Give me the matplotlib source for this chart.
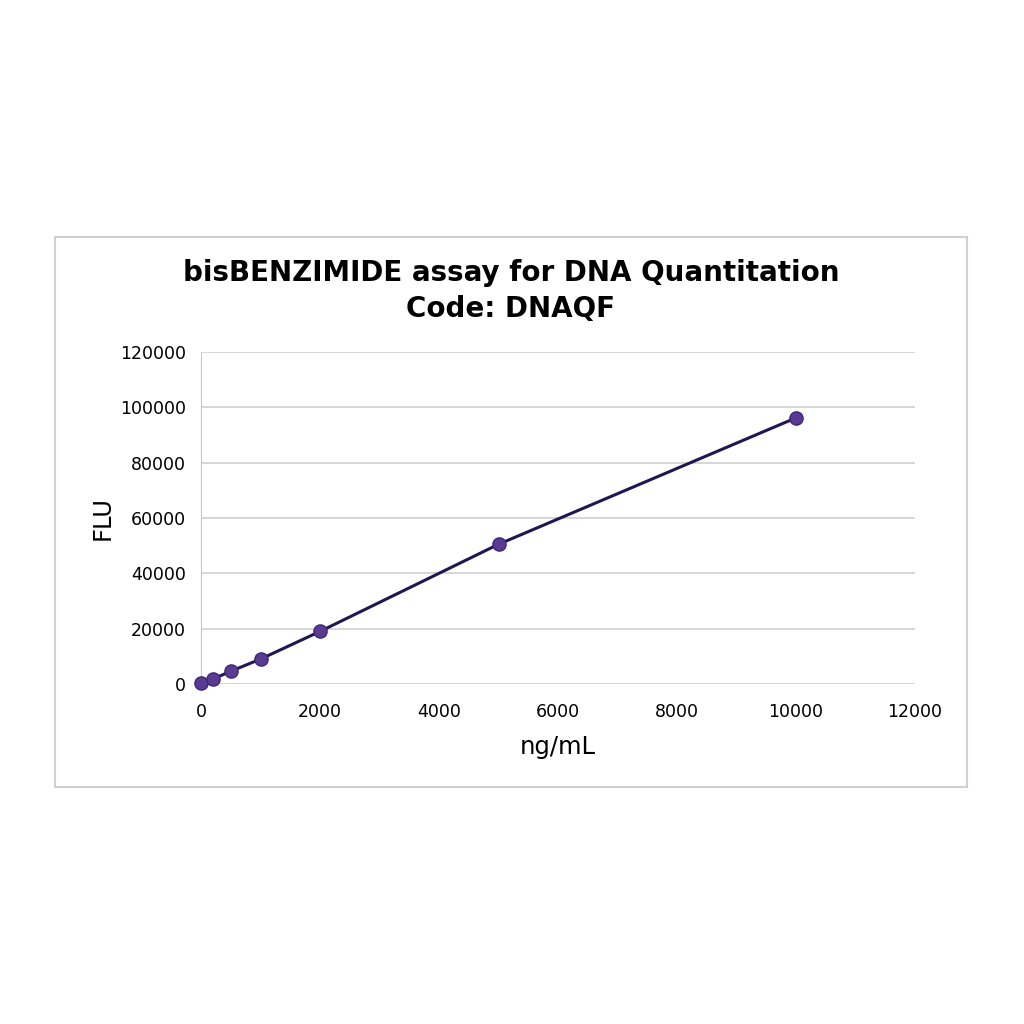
import matplotlib.pyplot as plt
from matplotlib.patches import Rectangle

# Стандартна крива: концентрація ДНК та флуоресценція
conc = [0, 200, 500, 1000, 2000, 5000, 10000]
flu = [300, 1800, 4600, 9000, 19000, 50500, 96200]

x_ticks = [0, 2000, 4000, 6000, 8000, 10000, 12000]
y_ticks = [0, 20000, 40000, 60000, 80000, 100000, 120000]

fig = plt.figure(figsize=(10.24, 10.24), dpi=100)
fig.patches.append(Rectangle((55 / 1024, 1 - 787 / 1024), 912 / 1024, 550 / 1024,
                             transform=fig.transFigure, fill=False,
                             edgecolor='#d0d0d0', linewidth=1.5))

ax = fig.add_axes([201 / 1024, 1 - 684 / 1024, 714 / 1024, 332 / 1024])
ax.plot(conc, flu, color='#221650', linewidth=2.2, marker='o', markersize=9.5,
        markerfacecolor='#5a3b92', markeredgecolor='#3f2775', zorder=3, clip_on=False)

ax.set_xlim(0, 12000)
ax.set_ylim(0, 120000)
ax.set_xticks(x_ticks)
ax.set_yticks(y_ticks)
ax.tick_params(length=0, labelsize=12.5)
ax.tick_params(axis='y', pad=11)
ax.tick_params(axis='x', pad=14)
ax.grid(axis='y', color='#d0d0d0', linewidth=1.2)
ax.set_axisbelow(True)
for side in ['top', 'right', 'bottom']:
    ax.spines[side].set_visible(False)
ax.spines['left'].set_color('#c8c8c8')

ax.set_xlabel('ng/mL', fontsize=17.5, labelpad=10)
ax.set_ylabel('FLU', fontsize=17.5, labelpad=4)

fig.text(511 / 1024, 1 - 291 / 1024, 'bisBENZIMIDE assay for DNA Quantitation\nCode: DNAQF',
         ha='center', va='center', fontsize=20, fontweight='bold', linespacing=1.35)

fig.savefig('out.png', dpi=100)
